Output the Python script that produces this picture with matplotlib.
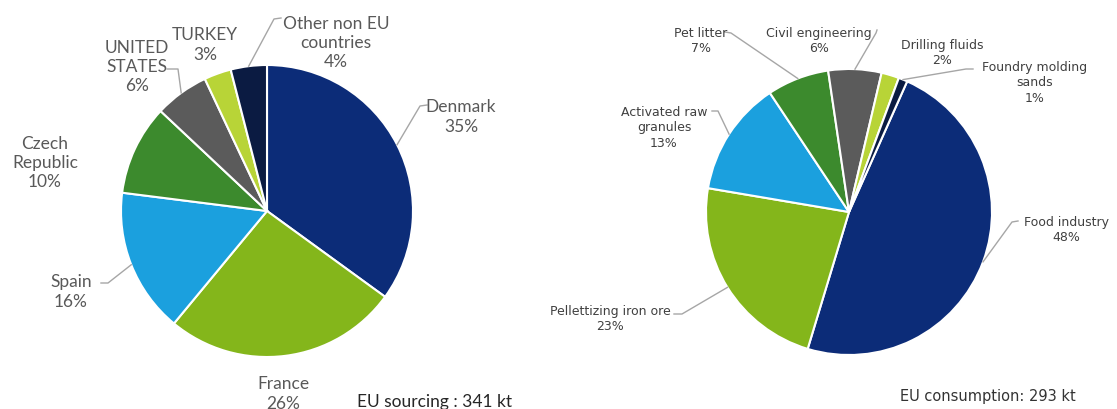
import matplotlib.pyplot as plt
import numpy as np

# left pie: where EU bentonite comes from
src_labels = ['Denmark', 'France', 'Spain', 'Czech\nRepublic', 'UNITED\nSTATES', 'TURKEY', 'Other non EU\ncountries']
src_values = [35, 26, 16, 10, 6, 3, 4]

# right pie: what it is used for
use_labels = ['Food industry', 'Pellettizing iron ore', 'Activated raw\ngranules', 'Pet litter',
              'Civil engineering', 'Drilling fluids', 'Foundry molding\nsands']
use_values = [48, 23, 13, 7, 6, 2, 1]

src_total = 'EU sourcing : 341 kt'
use_total = 'EU consumption: 293 kt'

navy = '#0c2c78'
lime = '#84b61b'
sky = '#1ba0de'
green = '#3c8a2d'
grey = '#5b5b5b'
yellow = '#b8d437'
dark = '#0b1b42'
colors = [navy, lime, sky, green, grey, yellow, dark]

W, H = 1117, 410
fig = plt.figure(figsize=(W / 100, H / 100), dpi=100)
ax = fig.add_axes([0, 0, 1, 1])


def py(y):
    # pixel row (from top) -> axes y
    return H - y


# label centres (pixel coords, y from top) and leader knee points
src_pos = [(461, 117), (283, 394), (71, 292), (45, 163), (137, 67), (205, 45), (336, 43)]
src_lead = [[(427, 106), (420, 107)], None, [(101, 284), (108, 284)], None,
            [(167, 70), (178, 70)], None, [(281, 19), (274, 20)]]
use_pos = [(1066, 230), (610, 319), (664, 128), (701, 41), (819, 41), (942, 53), (1035, 83)]
use_lead = [[(1018, 222), (1012, 223)], [(674, 315), (682, 315)], [(712, 112), (718, 112)],
            [(725, 33), (731, 34)], [(877, 31), (876, 34)], None, [(973, 70), (966, 70)]]


def draw(values, labels, center, radius, start, pos, lead, font, size, tcol):
    wedges, _ = ax.pie(values, colors=colors, startangle=start, counterclock=False,
                       center=center, radius=radius,
                       wedgeprops=dict(edgecolor='white', linewidth=1.5))
    for w, lab, v, p, ld in zip(wedges, labels, values, pos, lead):
        ax.text(p[0], py(p[1]), f'{lab}\n{v}%', ha='center', va='center',
                fontsize=size, family=font, color=tcol, linespacing=1.25)
        if ld:
            mid = np.deg2rad((w.theta1 + w.theta2) / 2)
            ex = center[0] + radius * np.cos(mid)
            ey = center[1] + radius * np.sin(mid)
            xs = [ld[0][0], ld[1][0], ex]
            ys = [py(ld[0][1]), py(ld[1][1]), ey]
            ax.plot(xs, ys, color='#a6a6a6', lw=1)


draw(src_values, src_labels, (267, py(212)), 146, 90, src_pos, src_lead, 'Lato', 12.5, '#595959')
draw(use_values, use_labels, (849, py(213)), 143, 66, use_pos, use_lead, 'DejaVu Sans', 9, '#404040')

ax.text(357, py(402), src_total, ha='left', va='center', fontsize=12.5, family='Lato', color='#262626')
ax.text(900, py(397), use_total, ha='left', va='center', fontsize=10.5, family='DejaVu Sans', color='#333333')

ax.set_xlim(0, W)
ax.set_ylim(0, H)
ax.set_aspect('auto')
ax.axis('off')
fig.savefig('out.png', dpi=100, facecolor='white')
